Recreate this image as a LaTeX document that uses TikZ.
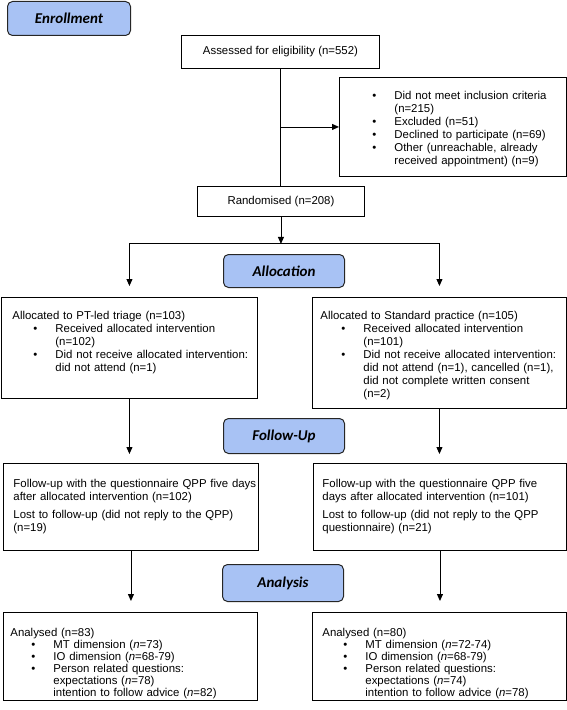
\documentclass[tikz,border=0pt]{standalone}
\usepackage{fontspec}
\setmainfont{Liberation Sans}
\newfontfamily\headfont{Carlito}
\usepackage{tikz}
\usetikzlibrary{arrows.meta}

\definecolor{phaseblue}{RGB}{168,194,244}
\def\boxfont{\fontsize{11.4bp}{13bp}\selectfont}
\def\anfont{\fontsize{11.4bp}{12bp}\selectfont}
\newcommand\fitem{\hangindent=43bp\hangafter=1\noindent\hspace*{21bp}\makebox[22bp][l]{\textbullet}}
\newcommand\bitem{\par\fitem}

\tikzset{
	phase/.style={draw=black!85, fill=phaseblue, line width=1bp, rounded corners=5bp, anchor=north west, inner sep=0pt, font=\headfont\bfseries\itshape\fontsize{15bp}{18bp}\selectfont},
	plain/.style={draw, line width=0.9bp, anchor=north west, inner sep=0pt, font=\boxfont},
	listbox/.style={draw, line width=0.9bp, anchor=north west, inner sep=0pt, align=left, text height=22bp, font=\boxfont, execute at begin node={\leftskip=#1}},
	arr/.style={-{Triangle[length=7bp,width=6bp]}, line width=0.9bp},
}

\begin{document}
\begin{tikzpicture}[x=1bp, y=-1bp]
		%%%%% START %%%%%
		\useasboundingbox (0,0) rectangle (567,710);
		
		\node[phase, minimum width=123bp, minimum height=34bp] (enrol) at (7,1) {Enrollment};
		\node[plain, minimum width=198bp, minimum height=33bp] (assess) at (181,35) {Assessed for eligibility (n=552)};
		\node[listbox=12bp, text width=227bp, text depth=77bp] (excl) at (339,77) {\fitem Did not meet inclusion criteria\newline (n=215)\bitem Excluded (n=51)\bitem Declined to participate (n=69)\bitem Other (unreachable, already\newline received appointment) (n=9)\par};
		\node[plain, minimum width=167bp, minimum height=30bp] (rand) at (197,186) {Randomised (n=208)};
		
		\node[phase, minimum width=121bp, minimum height=33bp] (alloc) at (223,254) {Allocation};
		\node[listbox=11bp, text width=256bp, text depth=79bp] (allocL) at (1,297) {Allocated to PT-led triage (n=103)\bitem Received allocated intervention\newline (n=102)\bitem Did not receive allocated intervention:\newline did not attend (n=1)\par};
		\node[listbox=8bp, text width=254bp, text depth=89bp] (allocR) at (312,297) {Allocated to Standard practice (n=105)\bitem Received allocated intervention\newline (n=101)\bitem Did not receive allocated intervention:\newline did not attend (n=1), cancelled (n=1),\newline did not complete written consent\newline (n=2)\par};
		
		\node[phase, minimum width=121bp, minimum height=35bp] (follow) at (223,418) {Follow-Up};
		\node[listbox=10bp, text width=255bp, text height=24bp, text depth=63bp] (fuL) at (3,463) {Follow-up with the questionnaire QPP five days\\after allocated intervention (n=102)\\[5bp]Lost to follow-up (did not reply to the QPP)\\(n=19)};
		\node[listbox=9bp, text width=253bp, text height=24bp, text depth=63bp] (fuR) at (313,463) {Follow-up with the questionnaire QPP five\\days after allocated intervention (n=101)\\[5bp]Lost to follow-up (did not reply to the QPP\\questionnaire) (n=21)};
		
		\node[phase, minimum width=121bp, minimum height=37bp] (analysis) at (222,564) {Analysis};
		\node[listbox=7bp, text width=254bp, text height=24bp, text depth=64bp, font=\anfont] (anL) at (3,612) {Analysed (n=83)\bitem MT dimension (\textit{n}=73)\bitem IO dimension (\textit{n}=68-79)\bitem Person related questions:\newline expectations (\textit{n}=78)\newline intention to follow advice (\textit{n}=82)\par};
		\node[listbox=10bp, text width=254bp, text height=24bp, text depth=64bp, font=\anfont] (anR) at (312,612) {Analysed (n=80)\bitem MT dimension (\textit{n}=72-74)\bitem IO dimension (\textit{n}=68-79)\bitem Person related questions:\newline expectations (\textit{n}=74)\newline intention to follow advice (\textit{n}=78)\par};
		
		\coordinate (split) at ([yshift=-27bp]rand.south);
		
		\draw[line width=0.9bp] (assess.south) -- (assess.south |- rand.north);
		\draw[arr] (assess.south |- excl.west) -- (excl.west);
		\draw[arr] (rand.south) -- (split);
		\draw[arr, shorten >=11bp] (split) -| (allocL.north);
		\draw[arr, shorten >=11bp] (split) -| (allocR.north);
		\draw[arr, shorten >=9bp] (allocL.south) -- (allocL.south |- fuL.north);
		\draw[arr, shorten >=9bp] (allocR.south) -- (allocR.south |- fuR.north);
		\draw[arr, shorten >=11bp] (fuL.south) -- (fuL.south |- anL.north);
		\draw[arr, shorten >=11bp] (fuR.south) -- (fuR.south |- anR.north);
		
		%%%%% END %%%%%
	\end{tikzpicture}
\end{document}
